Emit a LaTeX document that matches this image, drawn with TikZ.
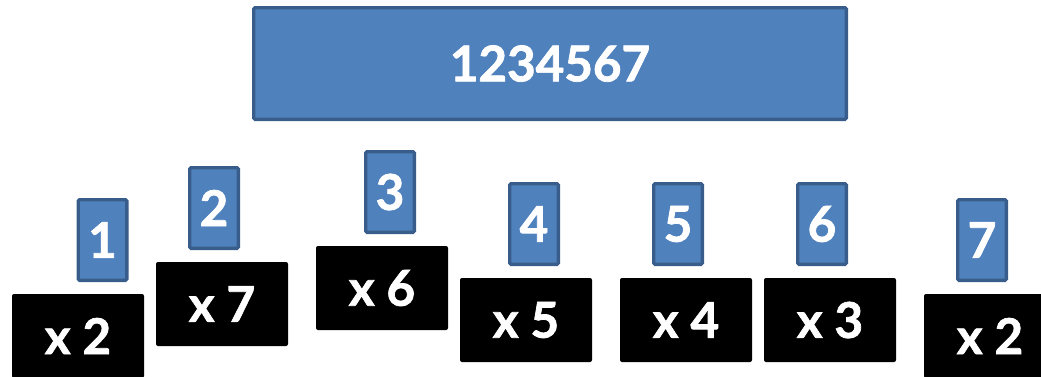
\documentclass[tikz,border=0pt]{standalone}
\usepackage{fontspec}
\setmainfont{Lato}[BoldFeatures={FakeBold=1.5}]
\definecolor{cardfill}{HTML}{4F81BD}
\definecolor{carddraw}{HTML}{385D8A}
\begin{document}
\begin{tikzpicture}[x=0.75pt,y=-0.75pt,
		every node/.style={font=\fontsize{37}{40}\selectfont\bfseries,text=white,inner sep=0pt},
		card/.style={fill=cardfill,draw=carddraw,line width=2.5pt,rounded corners=1pt,
			minimum width=36.5pt,minimum height=60.5pt},
		factor/.style={fill=black,rounded corners=1.5pt,minimum width=99pt,minimum height=63pt}]
		\useasboundingbox (0,0) rectangle (1041,376);
		\node[card,minimum width=444.5pt,minimum height=83.75pt] (num) at (550,63.5) {1234567};
		% digits and their weights
		\foreach \d/\x/\y in {1/102.5/240,2/214/208,3/390/192,4/534/224,5/678/224,6/822/224,7/982/240}
			\node[card] (d\d) at (\x,\y) {\d};
		\foreach \w/\x/\y [count=\i] in {2/78/336,7/222/304,6/382/288,5/526/320,4/686/320,3/830/320,2/990/336}
			\node[factor] (w\i) at (\x,\y) {x \w};
	\end{tikzpicture}
\end{document}
